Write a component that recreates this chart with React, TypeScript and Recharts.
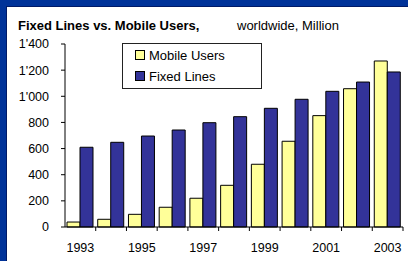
import { BarChart, Bar, XAxis, YAxis, Legend } from 'recharts'

const years = ['1993', '1994', '1995', '1996', '1997', '1998', '1999', '2000', '2001', '2002', '2003']
const mobileUsers = [38, 59, 97, 151, 220, 319, 480, 656, 852, 1058, 1270]
const fixedLines = [610, 648, 696, 742, 798, 844, 908, 977, 1038, 1109, 1186]
const seriesNames = ['Mobile Users', 'Fixed Lines']
const yTicks = [0, 200, 400, 600, 800, 1000, 1200, 1400]

const data = years.map((year, i) => ({
  year,
  mobile: mobileUsers[i],
  fixed: fixedLines[i],
}))

const W = 408
const H = 261
const M = { top: 44, right: 5, bottom: 4, left: 0 }
const Y_AXIS_W = 65
const X_AXIS_H = 30
const PLOT_W = W - M.left - M.right - Y_AXIS_W
const BAND = PLOT_W / years.length
const FONT = '"Liberation Sans", Arial, sans-serif'

// 1'400 style thousands separator
const fmt = (v: number) =>
  v >= 1000 ? `${Math.floor(v / 1000)}'${String(v % 1000).padStart(3, '0')}` : String(v)

const X_MARGIN = 16

function YearTick(props: any) {
  const { x, y, payload, index } = props
  const axisY = y - X_MARGIN
  return (
    <g>
      <line x1={x + BAND / 2} x2={x + BAND / 2} y1={axisY} y2={axisY + 4} stroke="#000" />
      {index % 2 === 0 && (
        <text x={x} y={y} dy="0.71em" textAnchor="middle" fill="#000" fontSize={12.5} fontFamily={FONT}>
          {payload.value}
        </text>
      )}
    </g>
  )
}

function LegendBox(props: any) {
  const items = [...(props.payload || [])].sort(
    (a: any, b: any) => seriesNames.indexOf(a.value) - seriesNames.indexOf(b.value)
  )
  return (
    <div
      style={{
        position: 'relative',
        width: 140,
        height: 46,
        boxSizing: 'border-box',
        border: '1px solid #222',
        background: '#fff',
        fontFamily: FONT,
        fontSize: 13,
        color: '#000',
      }}
    >
      {items.map((it: any, i: number) => (
        <div
          key={it.value}
          style={{ position: 'absolute', left: 12, top: 3 + i * 21, height: 16, display: 'flex', alignItems: 'center' }}
        >
          <span
            style={{
              display: 'inline-block',
              width: 8,
              height: 8,
              border: '1px solid #000',
              background: it.color,
              marginRight: 4,
            }}
          />
          <span>{it.value}</span>
        </div>
      ))}
    </div>
  )
}

export default function App() {
  return (
    <div
      style={{
        position: 'absolute',
        left: 0,
        top: 0,
        width: W,
        height: H,
        background: '#003399',
        overflow: 'hidden',
      }}
    >
      <div
        style={{
          position: 'absolute',
          left: 6,
          top: 6,
          width: W - 6,
          height: H - 6,
          boxSizing: 'border-box',
          background: '#fff',
          borderLeft: '1px solid #001a66',
          borderTop: '1px solid #001a66',
        }}
      />
      <div
        style={{
          position: 'absolute',
          left: 18,
          top: 18,
          fontFamily: FONT,
          fontSize: 13,
          fontWeight: 'bold',
          color: '#000',
          whiteSpace: 'nowrap',
        }}
      >
        Fixed Lines vs. Mobile Users,
      </div>
      <div
        style={{
          position: 'absolute',
          left: 237,
          top: 18,
          fontFamily: FONT,
          fontSize: 13,
          color: '#000',
          whiteSpace: 'nowrap',
        }}
      >
        worldwide, Million
      </div>
      <div style={{ position: 'absolute', left: 0, top: 0 }}>
        <BarChart width={W} height={H} data={data} margin={M} barGap={0} barCategoryGap={2}>
          <XAxis
            dataKey="year"
            interval={0}
            height={X_AXIS_H}
            tickLine={false}
            tickSize={0}
            tickMargin={X_MARGIN}
            axisLine={{ stroke: '#000' }}
            tick={<YearTick />}
          />
          <YAxis
            width={Y_AXIS_W}
            domain={[0, 1400]}
            ticks={yTicks}
            tickFormatter={fmt}
            tickSize={4}
            tickMargin={12}
            axisLine={{ stroke: '#000' }}
            tickLine={{ stroke: '#000' }}
            tick={{ fill: '#000', fontSize: 12.5, fontFamily: FONT }}
          />
          <Legend
            layout="horizontal"
            verticalAlign="middle"
            align="center"
            content={<LegendBox />}
            wrapperStyle={{ left: 122, top: 43, width: 140, height: 46 }}
          />
          <Bar dataKey="mobile" name={seriesNames[0]} fill="#ffff99" stroke="#000" strokeWidth={1} isAnimationActive={false} />
          <Bar dataKey="fixed" name={seriesNames[1]} fill="#333399" stroke="#000" strokeWidth={1} isAnimationActive={false} />
        </BarChart>
      </div>
    </div>
  )
}
